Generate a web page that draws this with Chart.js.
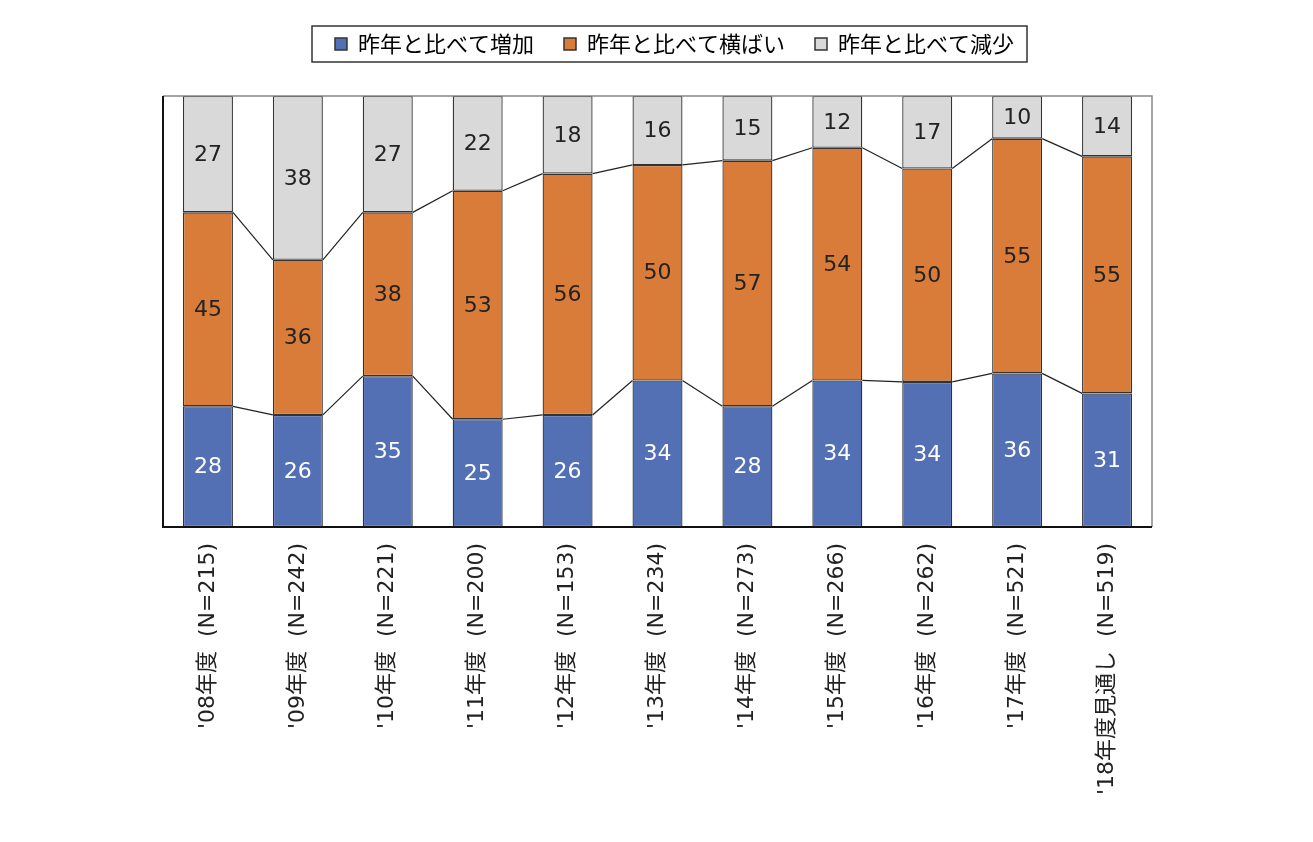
<!DOCTYPE html>
<html>
<head>
<meta charset="utf-8">
<script src="https://cdn.jsdelivr.net/npm/chart.js@4.4.0/dist/chart.umd.min.js"></script>
<style>
  html, body { margin: 0; padding: 0; background: #fff; }
  #wrap { width: 1313px; height: 842px; }
</style>
</head>
<body>
<div id="wrap"><canvas id="myChart"></canvas></div>
<script>
const years = ["'08年度", "'09年度", "'10年度", "'11年度", "'12年度", "'13年度", "'14年度", "'15年度", "'16年度", "'17年度", "'18年度見通し"];
const counts = [215, 242, 221, 200, 153, 234, 273, 266, 262, 521, 519];
const increase = [28, 26, 35, 25, 26, 34, 28, 34, 34, 36, 31];
const flat = [45, 36, 38, 53, 56, 50, 57, 54, 50, 55, 55];
const decrease = [27, 38, 27, 22, 18, 16, 15, 12, 17, 10, 14];

const labels = years.map((y, i) => y + '  (N=' + counts[i] + ')');
const totals = increase.map((v, i) => v + flat[i] + decrease[i]);
// 100%積み上げ用に正規化
const pct = arr => arr.map((v, i) => v / totals[i] * 100);

const FONT = "'Noto Sans CJK JP', 'Noto Sans', sans-serif";
const NUMFONT = "'DejaVu Sans', 'Noto Sans CJK JP', sans-serif";
const ctx = document.getElementById('myChart').getContext('2d');

// 凡例とグラフの間隔を広げる・少し右へ
const legendGap = {
  id: 'legendGap',
  afterInit(chart) {
    const fit = chart.legend.fit;
    chart.legend.fit = function () {
      fit.call(this);
      this.height += 31;
    };
  },
  afterLayout(chart) {
    chart.legend.left += 17;
    chart.legend.right += 17;
  }
};

// 区分線（系列線）
const seriesLines = {
  id: 'seriesLines',
  afterDatasetsDraw(chart) {
    const c = chart.ctx;
    c.save();
    c.strokeStyle = '#222';
    c.lineWidth = 1.2;
    [0, 1].forEach(d => {
      const pts = chart.getDatasetMeta(d).data;
      for (let i = 0; i < pts.length - 1; i++) {
        const a = pts[i], b = pts[i + 1];
        c.beginPath();
        c.moveTo(a.x + a.width / 2, a.y);
        c.lineTo(b.x - b.width / 2, b.y);
        c.stroke();
      }
    });
    c.restore();
  }
};

// 値ラベル
const valueLabels = {
  id: 'valueLabels',
  afterDatasetsDraw(chart) {
    const c = chart.ctx;
    c.save();
    c.font = '22px ' + NUMFONT;
    c.textAlign = 'center';
    c.textBaseline = 'middle';
    chart.data.datasets.forEach((ds, d) => {
      chart.getDatasetMeta(d).data.forEach((el, i) => {
        c.fillStyle = d === 0 ? '#ffffff' : '#222222';
        c.fillText(ds.raw[i], el.x, (el.y + el.base) / 2 + 1);
      });
    });
    c.restore();
  }
};

// 枠線と凡例の囲み
const frame = {
  id: 'frame',
  afterDraw(chart) {
    const c = chart.ctx;
    const a = chart.chartArea;
    c.save();
    c.lineWidth = 1.5;
    c.strokeStyle = '#888';
    c.beginPath();
    c.moveTo(a.left, a.top);
    c.lineTo(a.right, a.top);
    c.lineTo(a.right, a.bottom);
    c.stroke();
    c.strokeStyle = '#111';
    c.lineWidth = 2;
    c.beginPath();
    c.moveTo(a.left, a.top);
    c.lineTo(a.left, a.bottom);
    c.lineTo(a.right, a.bottom);
    c.stroke();

    const boxes = chart.legend.legendHitBoxes;
    if (boxes && boxes.length) {
      const t = Math.min(...boxes.map(b => b.top));
      const h = boxes[0].height;
      c.strokeStyle = '#333';
      c.lineWidth = 1.5;
      c.strokeRect(312, t - 7, 715, h + 14);
    }
    c.restore();
  }
};

const myChart = new Chart(ctx, {
  type: 'bar',
  data: {
    labels: labels,
    datasets: [
      { label: '昨年と比べて増加', data: pct(increase), raw: increase, backgroundColor: '#5470b5' },
      { label: '昨年と比べて横ばい', data: pct(flat), raw: flat, backgroundColor: '#d97c3a' },
      { label: '昨年と比べて減少', data: pct(decrease), raw: decrease, backgroundColor: '#d9d9d9' }
    ].map(ds => Object.assign(ds, {
      borderColor: '#333',
      borderWidth: 1.3,
      borderSkipped: false,
      barPercentage: 0.556,
      categoryPercentage: 1
    }))
  },
  options: {
    responsive: true,
    maintainAspectRatio: false,
    animation: false,
    layout: { padding: { left: 163, right: 161, top: 3, bottom: 0 } },
    plugins: {
      legend: {
        position: 'top',
        labels: {
          font: { family: FONT, size: 22 },
          color: '#222',
          boxWidth: 12,
          boxHeight: 12,
          padding: 30,
          generateLabels(chart) {
            return chart.data.datasets.map((ds, i) => ({
              text: ds.label,
              fillStyle: ds.backgroundColor,
              strokeStyle: '#333',
              lineWidth: 1.5,
              datasetIndex: i
            }));
          }
        }
      },
      tooltip: { enabled: false }
    },
    scales: {
      x: {
        stacked: true,
        grid: { display: false },
        border: { display: false },
        ticks: {
          minRotation: 90,
          maxRotation: 90,
          autoSkip: false,
          padding: 8,
          color: '#222',
          font: { family: NUMFONT, size: 22 }
        },
        afterFit(scale) { scale.height = 315; }
      },
      y: {
        stacked: true,
        display: false,
        min: 0,
        max: 100
      }
    }
  },
  plugins: [legendGap, seriesLines, valueLabels, frame]
});
</script>
</body>
</html>
